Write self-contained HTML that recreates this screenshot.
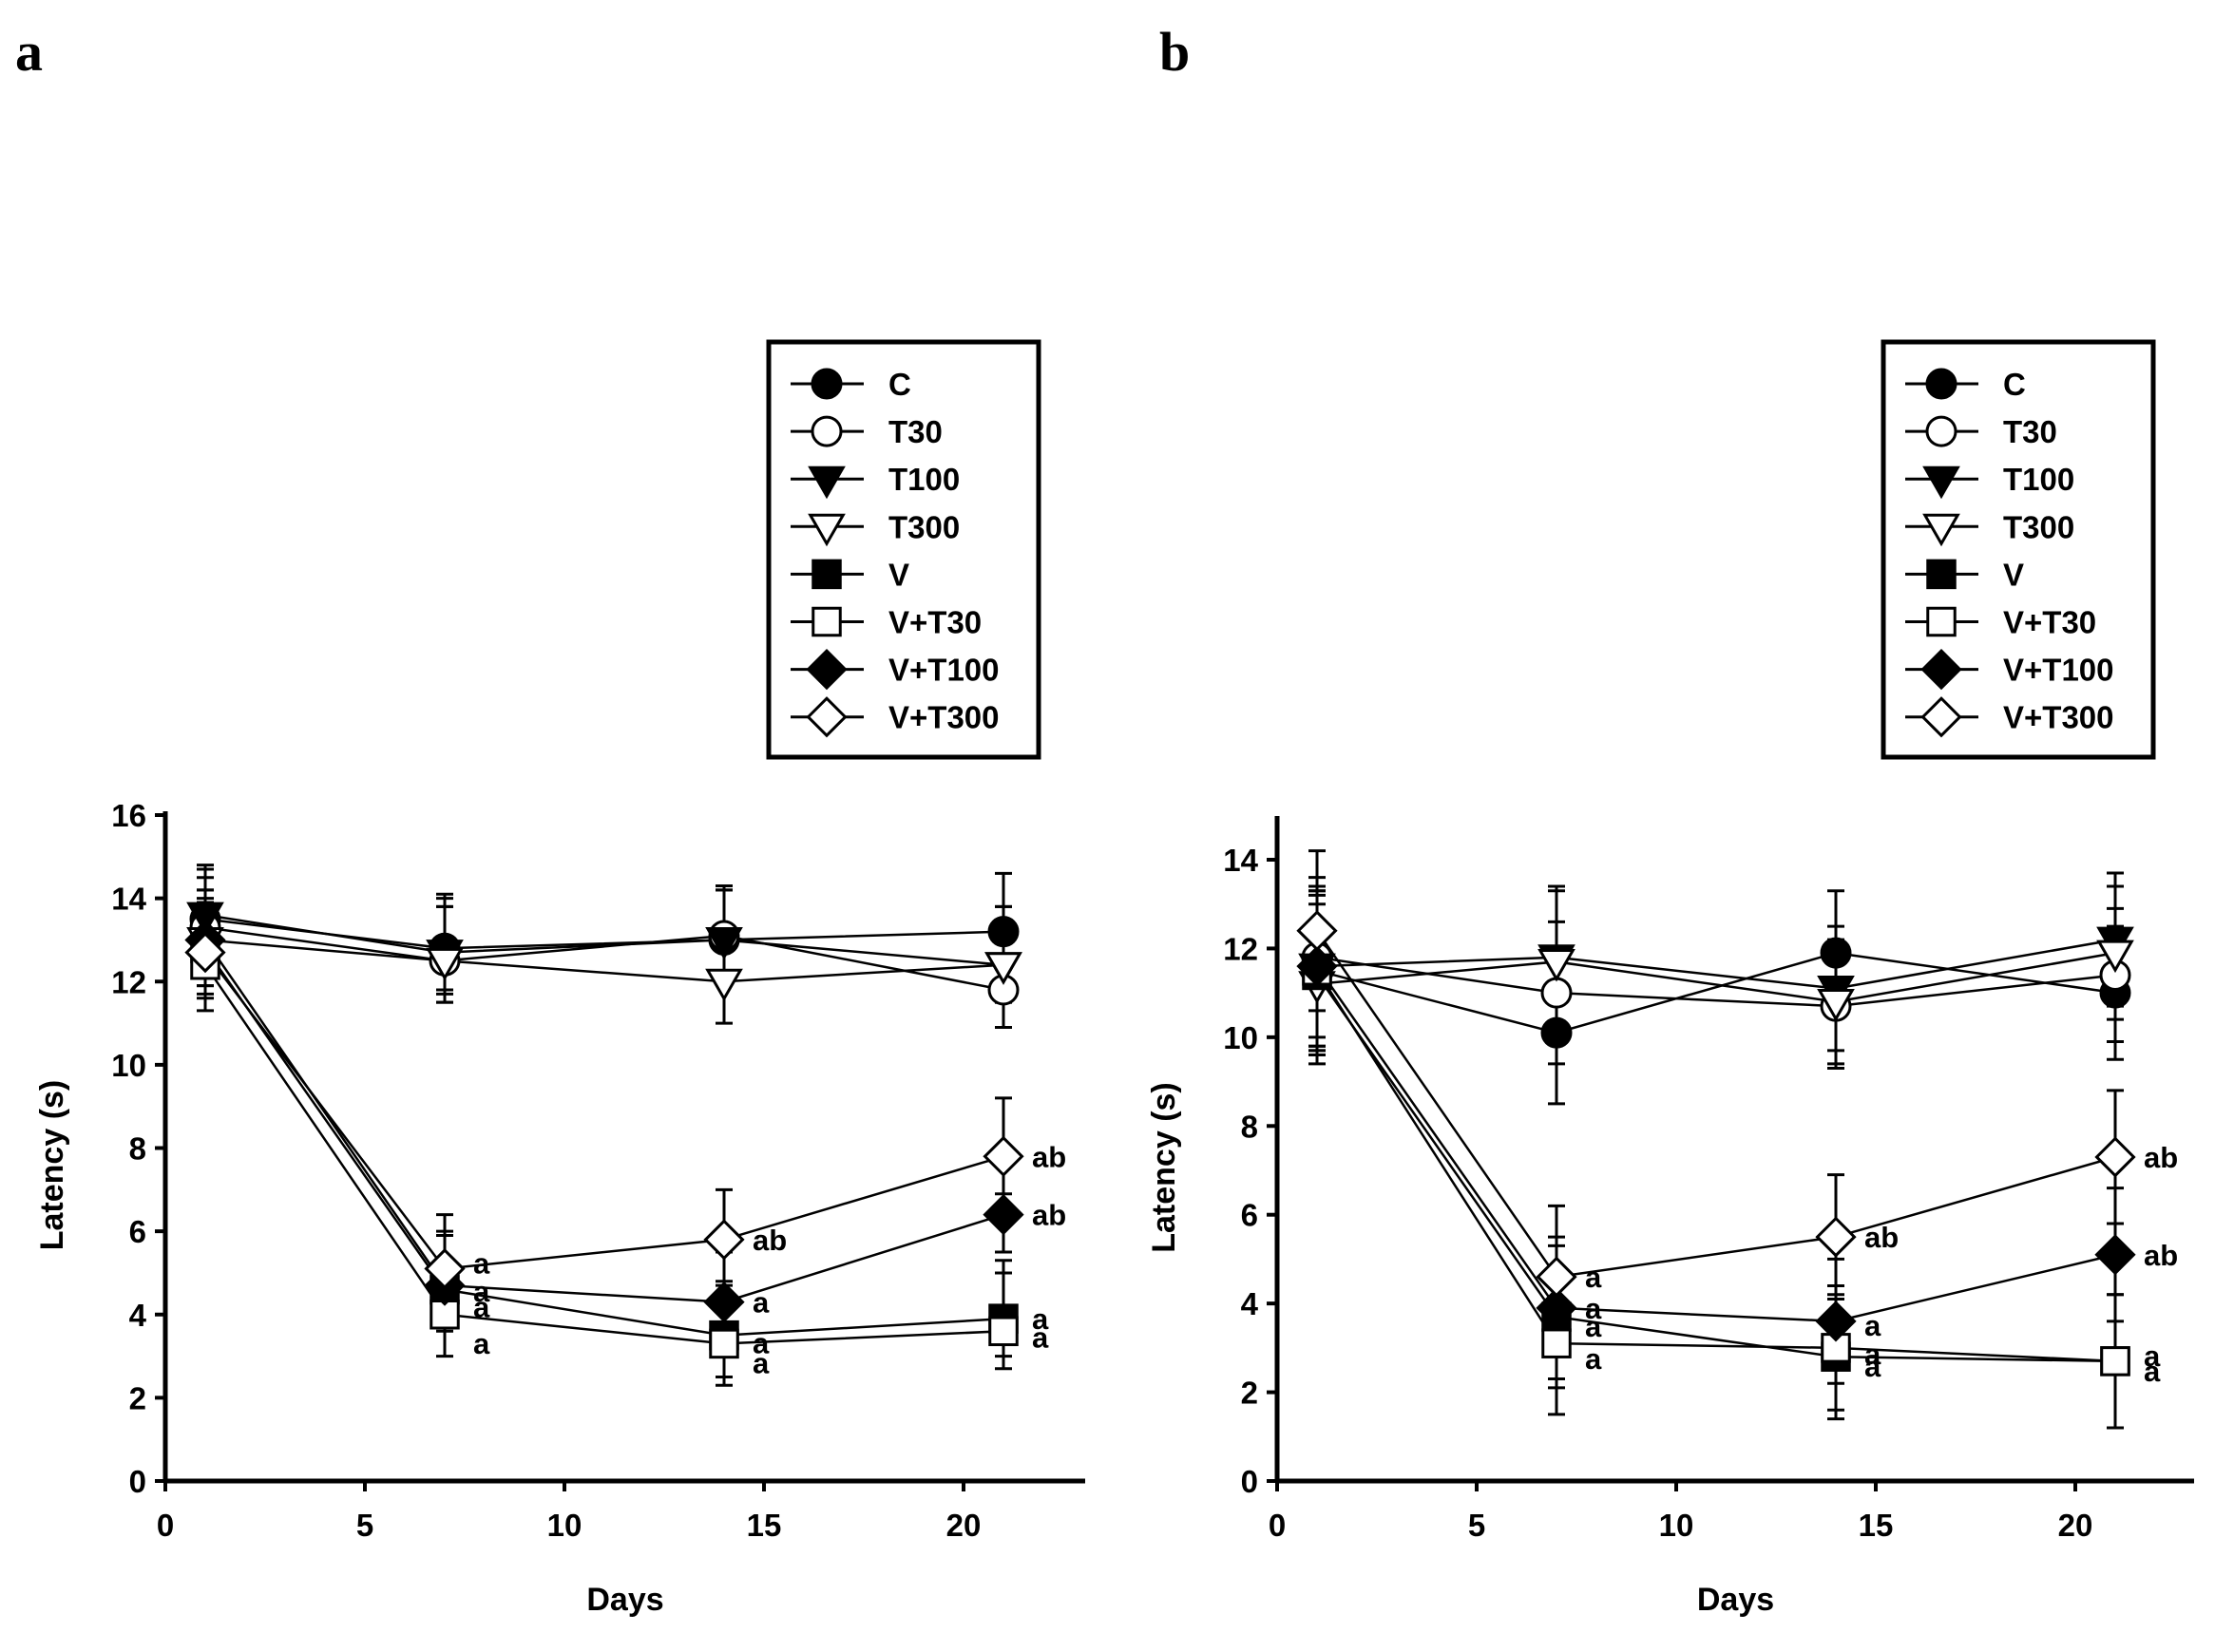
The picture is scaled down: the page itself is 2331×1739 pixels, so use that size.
<!DOCTYPE html>
<html><head><meta charset="utf-8"><style>
html,body{margin:0;padding:0;background:#fff;}
svg text{font-family:"Liberation Sans",Arial,sans-serif;font-weight:bold;}
</style></head><body>
<svg id="fig" width="2331" height="1734" viewBox="0 0 2331 1734" xmlns="http://www.w3.org/2000/svg">
<text x="16" y="74" font-size="58" style="font-family:'Liberation Serif',serif;font-weight:bold">a</text>
<text x="1220" y="74" font-size="58" style="font-family:'Liberation Serif',serif;font-weight:bold">b</text>
</svg>
<script>
const days=[1,7,14,21];
const seriesNames=["C","T30","T100","T300","V","V+T30","V+T100","V+T300"];
const markers=["circleF","circleO","triF","triO","sqF","sqO","diaF","diaO"];
// Panel a values
const aC=[13.5,12.8,13.0,13.2];
const aT30=[13.3,12.5,13.1,11.8];
const aT100=[13.6,12.7,13.0,12.4];
const aT300=[13.0,12.5,12.0,12.4];
const aV=[12.8,4.6,3.5,3.9];
const aVT30=[12.4,4.0,3.3,3.6];
const aVT100=[13.0,4.7,4.3,6.4];
const aVT300=[12.7,5.1,5.8,7.8];
const aErr=[1.2,1.3,1.2,1.4];
const aErrLow=[1.1,1.0,1.0,0.9];
// Panel b values
const bC=[11.5,10.1,11.9,11.0];
const bT30=[11.8,11.0,10.7,11.4];
const bT100=[11.6,11.8,11.1,12.2];
const bT300=[11.2,11.7,10.8,11.9];
const bV=[11.4,3.7,2.8,2.7];
const bVT30=[11.5,3.1,3.0,2.7];
const bVT100=[11.6,3.9,3.6,5.1];
const bVT300=[12.4,4.6,5.5,7.3];
const bErr=[1.8,1.6,1.4,1.5];
const xTicks=[0,5,10,15,20];
const aYTicks=[0,2,4,6,8,10,12,14,16];
const bYTicks=[0,2,4,6,8,10,12,14];
// significance labels: [seriesIndex, dayIndex, text, dyOffset]
const aSig=[[7,1,"a",-6],[6,1,"a",6],[4,1,"a",18],[5,1,"a",30],[7,2,"ab",0],[6,2,"a",0],[4,2,"a",8],[5,2,"a",20],[7,3,"ab",0],[6,3,"ab",0],[4,3,"a",0],[5,3,"a",6]];
const bSig=[[7,1,"a",0],[6,1,"a",0],[4,1,"a",10],[5,1,"a",16],[7,2,"ab",0],[6,2,"a",4],[5,2,"a",6],[4,2,"a",10],[7,3,"ab",0],[6,3,"ab",0],[5,3,"a",-6],[4,3,"a",10]];

const NS="http://www.w3.org/2000/svg";
const svg=document.getElementById('fig');
function mk(tag,attrs,parent){const e=document.createElementNS(NS,tag);for(const k in attrs)e.setAttribute(k,attrs[k]);(parent||svg).appendChild(e);return e;}

function marker(g,type,cx,cy,s){
  const fill=type.endsWith('F')?'#000':'#fff';
  let e;
  if(type.startsWith('circle'))e=mk('circle',{cx,cy,r:s,fill,stroke:'#000','stroke-width':3},g);
  else if(type.startsWith('tri'))e=mk('polygon',{points:`${cx-s*1.15},${cy-s*0.8} ${cx+s*1.15},${cy-s*0.8} ${cx},${cy+s*1.2}`,fill,stroke:'#000','stroke-width':3},g);
  else if(type.startsWith('sq'))e=mk('rect',{x:cx-s*0.95,y:cy-s*0.95,width:s*1.9,height:s*1.9,fill,stroke:'#000','stroke-width':3},g);
  else e=mk('polygon',{points:`${cx},${cy-s*1.3} ${cx+s*1.3},${cy} ${cx},${cy+s*1.3} ${cx-s*1.3},${cy}`,fill,stroke:'#000','stroke-width':3},g);
  return e;
}

function panel(id,ox,y0px,ytopPx,ymaxTick,axisTop,x20px,xEnd,yTicks,data,err,errLow,sig,legX){
  const g=mk('g',{});
  
  
  const X=d=>ox+(x20px-ox)*d/20;
  const Y=v=>y0px-(y0px-ytopPx)*v/ymaxTick;
  const ya=mk('line',{x1:ox,y1:y0px,x2:ox,y2:axisTop,stroke:'#000','stroke-width':5},g);
  
  
  const xa=mk('line',{x1:ox-2,y1:y0px,x2:xEnd,y2:y0px,stroke:'#000','stroke-width':5},g);
  
  
  yTicks.forEach(t=>{
    mk('line',{x1:ox-11,y1:Y(t),x2:ox,y2:Y(t),stroke:'#000','stroke-width':4},g);
    const tx=mk('text',{x:ox-20,y:Y(t)+12,'font-size':33,'text-anchor':'end'},g);
    tx.textContent=t;
    
    
  });
  xTicks.forEach(t=>{
    mk('line',{x1:X(t),y1:y0px,x2:X(t),y2:y0px+11,stroke:'#000','stroke-width':4},g);
    const tx=mk('text',{x:X(t),y:y0px+58,'font-size':33,'text-anchor':'middle'},g);
    tx.textContent=t;
    
    
  });
  const xl=mk('text',{x:(ox+xEnd)/2,y:y0px+136,'font-size':34,'text-anchor':'middle'},g);
  xl.textContent='Days';
  
  
  const yl=mk('text',{x:0,y:0,'font-size':34,'text-anchor':'middle',transform:`translate(${ox-108},${(y0px+axisTop)/2+20}) rotate(-90)`},g);
  yl.textContent='Latency (s)';
  
  
  data.forEach((vals,si)=>{
    const sg=mk('g',{},g);
    
    
    mk('polyline',{points:vals.map((v,i)=>X(days[i])+','+Y(v)).join(' '),fill:'none',stroke:'#000','stroke-width':2.5},sg);
    vals.forEach((v,i)=>{
      const up=err[i], lo=errLow?errLow[i]:err[i];
      mk('line',{x1:X(days[i]),y1:Y(v+up),x2:X(days[i]),y2:Y(v-lo),stroke:'#000','stroke-width':3},sg);
      mk('line',{x1:X(days[i])-9,y1:Y(v+up),x2:X(days[i])+9,y2:Y(v+up),stroke:'#000','stroke-width':3},sg);
      mk('line',{x1:X(days[i])-9,y1:Y(v-lo),x2:X(days[i])+9,y2:Y(v-lo),stroke:'#000','stroke-width':3},sg);
    });
  });
  data.forEach((vals,si)=>{
    vals.forEach((v,i)=>{
      const m=marker(g,markers[si],X(days[i]),Y(v),15);
      
      
    });
  });
  sig.forEach(s=>{
    const v=data[s[0]][s[1]];
    const t=mk('text',{x:X(days[s[1]])+30,y:Y(v)+11+s[3],'font-size':31},g);
    t.textContent=s[2];
    
    
  });
  const lg=mk('g',{},g);
  
  
  mk('rect',{x:legX,y:360,width:284,height:437,fill:'#fff',stroke:'#000','stroke-width':5},lg);
  seriesNames.forEach((n,i)=>{
    const ry=404+i*50.1;
    const eg=mk('g',{},lg);
    
    
    mk('line',{x1:legX+23,y1:ry,x2:legX+100,y2:ry,stroke:'#000','stroke-width':3},eg);
    marker(eg,markers[i],legX+61,ry,15);
    const t=mk('text',{x:legX+126,y:ry+12,'font-size':33},eg);
    t.textContent=n;
  });
}
panel('a',174,1559,858,16,854,1014,1142,aYTicks,[aC,aT30,aT100,aT300,aV,aVT30,aVT100,aVT300],aErr,aErrLow,aSig,809);
panel('b',1344,1559,905,14,859,2184,2309,bYTicks,[bC,bT30,bT100,bT300,bV,bVT30,bVT100,bVT300],bErr,null,bSig,1982);
</script>
</body></html>
